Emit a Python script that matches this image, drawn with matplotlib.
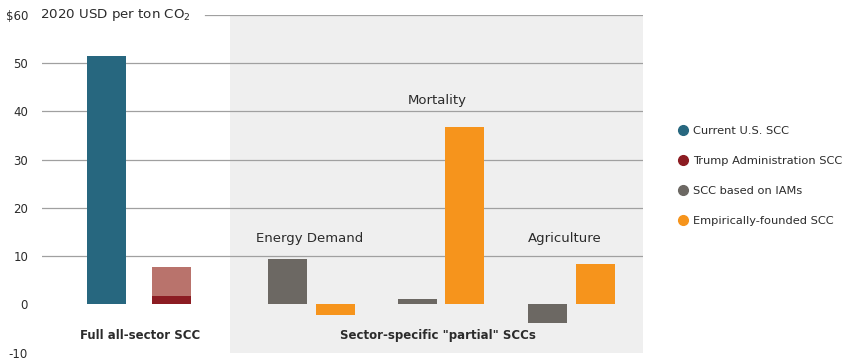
import matplotlib
matplotlib.use("Agg")
import matplotlib.pyplot as plt
from matplotlib.lines import Line2D

plt.rcParams['font.family'] = ['DejaVu Sans']

# Values (2020 USD per ton CO2)
current_us = [51.5]
trump_low = [1.8]
trump_high = [7.8]
groups = ["Energy Demand", "Mortality", "Agriculture"]
iam_scc = [9.4, 1.2, -3.8]
empirical_scc = [-2.3, 36.8, 8.3]

yticks = [60, 50, 40, 30, 20, 10, 0, -10]
ytick_labels = ["$60", "50", "40", "30", "20", "10", "0", "-10"]

legend_labels = ["Current U.S. SCC", "Trump Administration SCC",
                 "SCC based on IAMs", "Empirically-founded SCC"]

# Colours
teal = "#27677f"
dark_red = "#8c1c22"
light_red = "#b9736c"
grey = "#6c6863"
orange = "#f6941c"
panel = "#efefef"
txt = "#2b2b2b"

fig = plt.figure(figsize=(8.5, 3.6), dpi=100)
ax = fig.add_axes([42/850, 7.4/360, 601/850, 337.9/360])
ax.set_xlim(0, 601)
ax.set_ylim(-10, 60)

# layout (pixel-like units along x)
w = 39
full_x = [64.5, 129]
sector_x = [(245, 293), (375, 422), (505, 553)]

# grey background for sector-specific section
ax.axvspan(188, 601, color=panel, zorder=0, lw=0)

# gridlines
for v in [10, 20, 30, 40, 50]:
    ax.axhline(v, color="#a0a0a0", lw=0.9, zorder=1)
ax.plot([163, 601], [60, 60], color="#a0a0a0", lw=0.9, zorder=1)

# full all-sector bars
ax.bar(full_x[0], current_us, width=w, color=teal, zorder=2)
ax.bar(full_x[1], trump_low, width=w, color=dark_red, zorder=2)
ax.bar(full_x[1], [h - l for h, l in zip(trump_high, trump_low)],
       bottom=trump_low, width=w, color=light_red, zorder=2)

# sector bars
ax.bar([p[0] for p in sector_x], iam_scc, width=w, color=grey, zorder=2)
ax.bar([p[1] for p in sector_x], empirical_scc, width=w, color=orange, zorder=2)

# group labels
ax.text(214, 13.6, groups[0], fontsize=9.5, color=txt, ha="left", va="center")
ax.text(395, 42.3, groups[1], fontsize=9.5, color=txt, ha="center", va="center")
ax.text(523, 13.6, groups[2], fontsize=9.5, color=txt, ha="center", va="center")

ax.text(98, -6.5, "Full all-sector SCC", fontsize=8.5, fontweight="bold",
        color=txt, ha="center", va="center")
ax.text(396, -6.5, "Sector-specific \"partial\" SCCs", fontsize=8.5,
        fontweight="bold", color=txt, ha="center", va="center")

ax.text(-2, 60, "2020 USD per ton CO$_2$", fontsize=9.6, color=txt,
        ha="left", va="center")

# y ticks
ax.set_yticks(yticks)
ax.set_yticklabels(ytick_labels, fontsize=8.5, color=txt)
ax.tick_params(axis="y", length=0, pad=10)
ax.set_xticks([])
for s in ax.spines.values():
    s.set_visible(False)

handles = [Line2D([], [], marker="o", ls="", markersize=7, color=c)
           for c in [teal, dark_red, grey, orange]]
fig.legend(handles, legend_labels, loc="upper left",
           bbox_to_anchor=(666/850, 1 - 116/360), frameon=False,
           fontsize=8.2, labelspacing=1.75, handletextpad=0.3,
           handlelength=1.2, labelcolor=txt)

fig.savefig("out.png", dpi=100)
